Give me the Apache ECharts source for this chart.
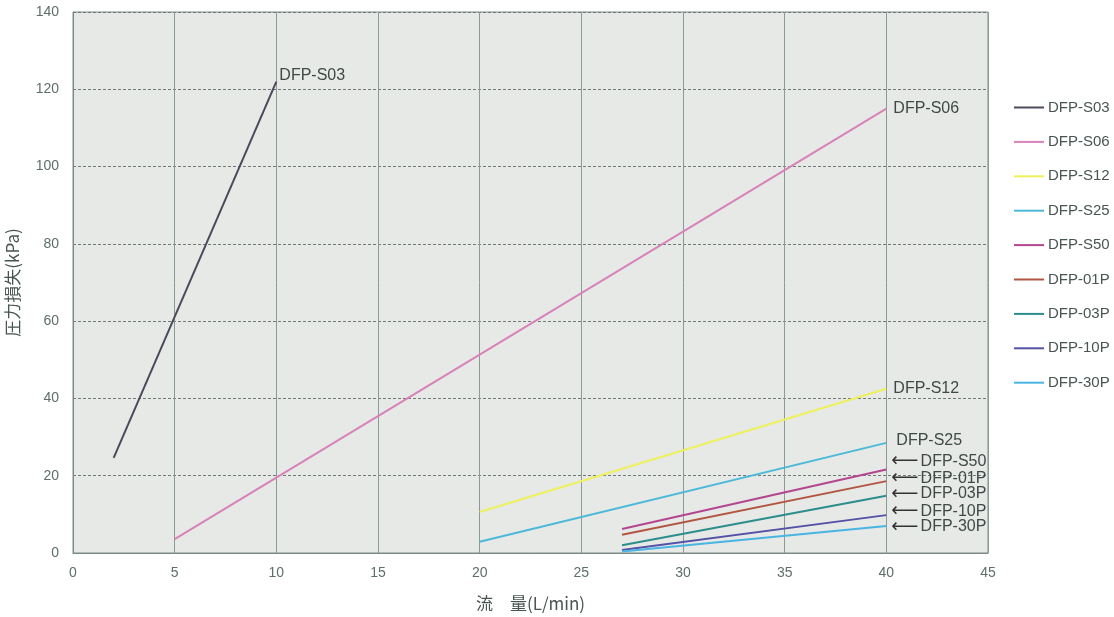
<!DOCTYPE html>
<html><head><meta charset="utf-8">
<script src="https://cdn.jsdelivr.net/npm/echarts@6/dist/echarts.min.js"></script>
<style>html,body{margin:0;padding:0;background:#fff}#c{width:1114px;height:617px}</style>
</head><body><div id="c"></div>
<script>
const seriesNames = ['DFP-S03','DFP-S06','DFP-S12','DFP-S25','DFP-S50','DFP-01P','DFP-03P','DFP-10P','DFP-30P'];
const dataS03 = [[2, 24.6], [10, 122]];
const dataS06 = [[5, 3.6], [40, 115]];
const dataS12 = [[20, 10.6], [40, 42.5]];
const dataS25 = [[20, 2.9], [40, 28.5]];
const dataS50 = [[27, 6.2], [40, 21.6]];
const data01P = [[27, 4.7], [40, 18.6]];
const data03P = [[27, 2.0], [40, 14.8]];
const data10P = [[27, 0.8], [40, 9.8]];
const data30P = [[27, 0.4], [40, 7.0]];
const xTicks = [0,5,10,15,20,25,30,35,40,45];
const yTicks = [0,20,40,60,80,100,120,140];

const allData = [dataS03,dataS06,dataS12,dataS25,dataS50,data01P,data03P,data10P,data30P];
const colors = ['#4b4a5c','#d783b9','#eef15c','#4cb9d8','#b4458f','#b25642','#2b8e8c','#5452a6','#4ab5e2'];
// label styling per series: [offsetX, offsetY, arrow]
const labelCfg = [[-5,-6,false],[-1,0,false],[-1,0,false],[2,-2,false],[-3,-8,true],[-3,-3,true],[-3,-2,true],[-3,-4,true],[-3,1,true]];

const chart = echarts.init(document.getElementById('c'));
const txt = '#485550';
chart.setOption({
  animation:false,
  backgroundColor:'#fff',
  textStyle:{fontFamily:'Liberation Sans, Arial, sans-serif'},
  grid:{left:73, right:126, top:12, bottom:64, show:true, outerBoundsMode:'none', containLabel:false,
        backgroundColor:'#e7e9e7', borderColor:'#7d8a86', borderWidth:1},
  legend:{
    orient:'vertical', left:1009, top:95, itemGap:19.4, itemWidth:30, itemHeight:14,
    icon:'path://M0,6 L30,6 L30,8 L0,8 Z',
    textStyle:{color:txt, fontSize:15, padding:[0,0,0,-1]},
    data:seriesNames
  },
  xAxis:{
    type:'value', min:0, max:45, interval:5,
    name:'流　量(L/min)', nameLocation:'middle', nameGap:42,
    nameTextStyle:{color:txt, fontSize:17, fontFamily:'Noto Sans CJK JP'},
    axisLine:{show:true, lineStyle:{color:'#7d8a86'}},
    axisTick:{show:false},
    axisLabel:{color:'#5e6e69', fontSize:14, margin:13, formatter:v=>xTicks.includes(v)?String(v):''},
    splitLine:{show:true, lineStyle:{color:'#8c9a96', width:1}}
  },
  yAxis:{
    type:'value', min:0, max:140, interval:20,
    name:'圧力損失(kPa)', nameLocation:'middle', nameGap:52,
    nameTextStyle:{color:txt, fontSize:17, fontFamily:'Noto Sans CJK JP'},
    axisLine:{show:true, lineStyle:{color:'#7d8a86'}},
    axisTick:{show:false},
    axisLabel:{color:'#5e6e69', fontSize:14, margin:14, formatter:v=>yTicks.includes(v)?String(v):''},
    splitLine:{show:true, lineStyle:{color:'#6f7a77', type:[3,2], width:1}}
  },
  series: seriesNames.map((n,i)=>({
    name:n, type:'line', data:allData[i], symbol:'none', silent:true,
    lineStyle:{color:colors[i], width:2},
    itemStyle:{color:colors[i]},
    endLabel:{
      show:true, color:'#3f4a46', fontSize:16,
      offset:[labelCfg[i][0], labelCfg[i][1]],
      formatter: labelCfg[i][2] ? ('{a|⟵}'+n) : n,
      rich:{a:{color:'#333', fontSize:19, fontFamily:'DejaVu Sans', padding:[0,2,0,0]}}
    }
  }))
});
</script></body></html>
